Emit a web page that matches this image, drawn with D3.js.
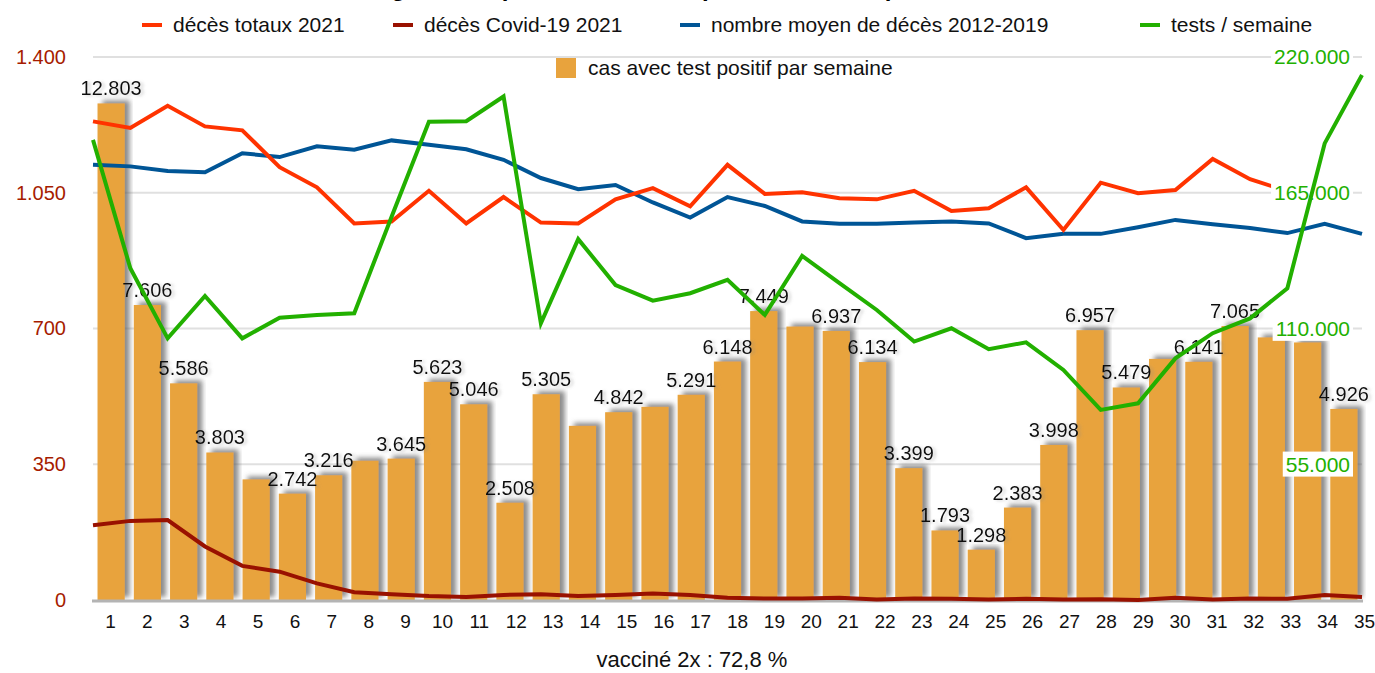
<!DOCTYPE html>
<html>
<head>
<meta charset="utf-8">
<script src="https://cdn.jsdelivr.net/npm/d3@7"></script>
<style>
  body { margin: 0; background: #fff; }
  svg { display: block; font-family: "Liberation Sans", Arial, sans-serif; }
</style>
</head>
<body>
<svg id="chart"></svg>
<script>
// weeks 1..35
const weeks = d3.range(1, 36);

// positive cases per week (bars, drawn at 1/10 on the left axis)
const cases = [12803, 7606, 5586, 3803, 3110, 2742, 3216, 3590, 3645, 5623,
  5046, 2508, 5305, 4490, 4842, 4980, 5291, 6148, 7449, 7050,
  6937, 6134, 3399, 1793, 1298, 2383, 3998, 6957, 5479, 6216,
  6141, 7065, 6770, 6640, 4926];
// bars whose value label is not shown in the original
const unlabeledWeeks = [5, 8, 14, 16, 20, 30, 33, 34];

// total deaths 2021 (weeks 1..33)
const deaths2021 = [1234, 1217, 1274, 1221, 1211, 1116, 1064, 971, 976, 1055,
  971, 1039, 973, 971, 1033, 1062, 1015, 1122, 1047, 1051,
  1036, 1033, 1055, 1003, 1010, 1064, 954, 1076, 1049, 1057,
  1137, 1085, 1054];

// covid-19 deaths 2021
const covidDeaths = [193, 204, 206, 138, 88, 73, 43, 20, 15, 10,
  8, 13, 15, 10, 13, 17, 13, 6, 4, 4,
  6, 1, 4, 3, 1, 3, 1, 2, 0, 6,
  1, 4, 3, 13, 8];

// average deaths 2012-2019
const avgDeaths = [1122, 1118, 1106, 1103, 1152, 1142, 1170, 1161, 1185, 1174,
  1162, 1135, 1088, 1059, 1070, 1025, 986, 1039, 1016, 976,
  970, 970, 973, 976, 971, 933, 944, 944, 961, 980,
  969, 959, 946, 970, 944];

// tests per week (right axis)
const tests = [186400, 134400, 106000, 123200, 106000, 114400, 115500, 116200, 155300, 193800,
  194000, 204000, 112100, 146200, 127600, 121300, 124300, 129700, 115500, 139400,
  128400, 117500, 104700, 110100, 101600, 104400, 93200, 77000, 79700, 97900,
  108100, 114100, 126300, 185000, 212700];

const leftTicks = [0, 350, 700, 1050, 1400];
const rightTicks = [55000, 110000, 165000, 220000];

const colors = {
  total: "#ff3300",
  covid: "#991100",
  avg: "#005596",
  tests: "#22b000",
  bars: "#e8a33d",
  leftAxis: "#a61c00"
};

const W = 1375, H = 673;
const plot = { left: 93, right: 1362, top: 57, bottom: 600 };

const fmt = d3.formatLocale({ decimal: ",", thousands: ".", grouping: [3], currency: ["", "€"] }).format(",");

const svg = d3.select("#chart").attr("width", W).attr("height", H);

const defs = svg.append("defs");
const shadow = defs.append("filter").attr("id", "barShadow")
  .attr("x", "-30%").attr("y", "-10%").attr("width", "160%").attr("height", "120%");
shadow.append("feDropShadow")
  .attr("dx", 5).attr("dy", -3).attr("stdDeviation", 2.5)
  .attr("flood-color", "#666").attr("flood-opacity", 0.75);
const textShadow = defs.append("filter").attr("id", "textShadow")
  .attr("x", "-10%").attr("y", "-20%").attr("width", "130%").attr("height", "150%");
textShadow.append("feDropShadow")
  .attr("dx", 3).attr("dy", 1).attr("stdDeviation", 1.5)
  .attr("flood-color", "#888").attr("flood-opacity", 0.35);

// scales
const yLeft = d3.scaleLinear().domain([0, 1400]).range([plot.bottom, plot.top]);
const yRight = d3.scaleLinear().domain([0, 220000]).range([plot.bottom, plot.top]);
const xBar = d3.scaleBand().domain(weeks).range([plot.left, plot.right])
  .paddingInner(0.25).paddingOuter(0.125);
const xLine = d3.scalePoint().domain(weeks).range([plot.left, plot.right]);
const xTick = d3.scalePoint().domain(weeks).range([110, 1364]);

// title: cut off at the top edge in the reference, only descenders show.
// NOTE: the wording below is a guess, the real title is not readable.
svg.append("text")
  .attr("x", 690).attr("y", -4)
  .attr("text-anchor", "middle")
  .style("font-size", "24px").style("font-weight", "bold")
  .text("Luxembourg : décès par semaine, cas positifs et tests par semaine en 2021");

// gridlines
svg.append("g").selectAll("line")
  .data(leftTicks.filter(d => d > 0))
  .join("line")
  .attr("x1", plot.left).attr("x2", plot.right)
  .attr("y1", d => yLeft(d)).attr("y2", d => yLeft(d))
  .attr("stroke", "#e0e0e0").attr("stroke-width", 2);

// left axis
const leftAxis = svg.append("g")
  .attr("transform", "translate(66,0)")
  .call(d3.axisLeft(yLeft).tickValues(leftTicks).tickFormat(fmt).tickSize(0).tickPadding(0));
leftAxis.select(".domain").remove();
leftAxis.selectAll("text")
  .attr("fill", colors.leftAxis)
  .style("font-size", "20px")
  .style("font-family", "'Liberation Sans', Arial, sans-serif");

// bars
svg.append("g").selectAll("rect")
  .data(weeks)
  .join("rect")
  .attr("x", d => xBar(d))
  .attr("width", xBar.bandwidth())
  .attr("y", d => yLeft(cases[d - 1] / 10))
  .attr("height", d => plot.bottom - yLeft(cases[d - 1] / 10))
  .attr("fill", colors.bars)
  .attr("filter", "url(#barShadow)");

// baseline
svg.append("line")
  .attr("x1", plot.left - 1).attr("x2", plot.right + 1)
  .attr("y1", plot.bottom + 1).attr("y2", plot.bottom + 1)
  .attr("stroke", "#b4b4b4").attr("stroke-width", 3);

// x axis tick labels
const xAxis = svg.append("g")
  .attr("transform", `translate(0,${plot.bottom + 14})`)
  .call(d3.axisBottom(xTick).tickSize(0).tickPadding(0));
xAxis.select(".domain").remove();
xAxis.selectAll("text")
  .attr("fill", "#111")
  .style("font-size", "19px")
  .style("font-family", "'Liberation Sans', Arial, sans-serif");

// x axis title
svg.append("text")
  .attr("x", 692).attr("y", 667)
  .attr("text-anchor", "middle")
  .style("font-size", "22px").attr("fill", "#111")
  .text("vacciné 2x : 72,8 %");

// death lines
function drawLine(values, color) {
  const line = d3.line()
    .x((d, i) => xLine(weeks[i]))
    .y(d => yLeft(d));
  svg.append("path")
    .datum(values)
    .attr("d", line)
    .attr("fill", "none")
    .attr("stroke", color)
    .attr("stroke-width", 4)
    .attr("stroke-linejoin", "miter");
}
drawLine(covidDeaths, colors.covid);
drawLine(avgDeaths, colors.avg);
drawLine(deaths2021, colors.total);

// bar value labels
svg.append("g").selectAll("text")
  .data(weeks.filter(d => !unlabeledWeeks.includes(d)))
  .join("text")
  .attr("x", d => xBar(d) + xBar.bandwidth() / 2)
  .attr("y", d => yLeft(cases[d - 1] / 10) - 8)
  .attr("text-anchor", "middle")
  .attr("fill", "#111")
  .attr("filter", "url(#textShadow)")
  .style("font-size", "20px")
  .text(d => fmt(cases[d - 1]));

// right axis labels with white background
const rightLabels = svg.append("g").selectAll("g")
  .data(rightTicks)
  .join("g");
rightLabels.append("text")
  .attr("x", 1350)
  .attr("y", d => yRight(d))
  .attr("dy", "0.35em")
  .attr("text-anchor", "end")
  .attr("fill", colors.tests)
  .style("font-size", "21px")
  .text(d => fmt(d));
rightLabels.each(function () {
  const g = d3.select(this);
  const b = g.select("text").node().getBBox();
  g.insert("rect", "text")
    .attr("x", b.x - 3).attr("y", b.y - 1)
    .attr("width", b.width + 6).attr("height", b.height + 2)
    .attr("fill", "#fff");
});

// tests line (right axis)
svg.append("path")
  .datum(tests)
  .attr("d", d3.line().x((d, i) => xLine(weeks[i])).y(d => yRight(d)))
  .attr("fill", "none")
  .attr("stroke", colors.tests)
  .attr("stroke-width", 4);

// legend
const legendRow1 = [
  { label: "décès totaux 2021", color: colors.total, x: 142 },
  { label: "décès Covid-19 2021", color: colors.covid, x: 393 },
  { label: "nombre moyen de décès 2012-2019", color: colors.avg, x: 680 },
  { label: "tests / semaine", color: colors.tests, x: 1140 }
];
const legend = svg.append("g");
const items = legend.selectAll("g").data(legendRow1).join("g")
  .attr("transform", d => `translate(${d.x},25)`);
items.append("rect")
  .attr("x", 0).attr("y", -2).attr("width", 20).attr("height", 4)
  .attr("fill", d => d.color);
items.append("text")
  .attr("x", 31).attr("dy", "0.35em")
  .style("font-size", "21px").attr("fill", "#111")
  .text(d => d.label);

legend.append("rect")
  .attr("x", 556).attr("y", 58).attr("width", 20).attr("height", 20)
  .attr("fill", colors.bars);
legend.append("text")
  .attr("x", 588).attr("y", 68).attr("dy", "0.35em")
  .style("font-size", "21px").attr("fill", "#111")
  .text("cas avec test positif par semaine");
</script>
</body>
</html>
